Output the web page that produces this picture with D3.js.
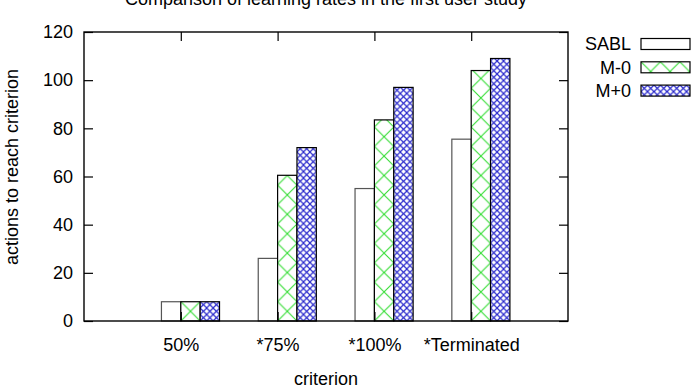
<!DOCTYPE html>
<html>
<head>
<meta charset="utf-8">
<script src="https://cdn.jsdelivr.net/npm/d3@7"></script>
<style>
  body { margin: 0; background: #fff; }
  svg { display: block; font-family: "Liberation Sans", Arial, sans-serif; }
</style>
</head>
<body>
<div id="chart"></div>
<script>
// values
const categories = ["50%", "*75%", "*100%", "*Terminated"];
const seriesNames = ["SABL", "M-0", "M+0"];
const sabl = [8, 26, 55, 75.5];
const mMinus0 = [8, 60.5, 83.5, 104];
const mPlus0 = [8, 72, 97, 109];
const yTicks = [0, 20, 40, 60, 80, 100, 120];

const series = [sabl, mMinus0, mPlus0];

const width = 698, height = 388;
const plot = { left: 84, right: 568, top: 32, bottom: 321 };

const svg = d3.select("#chart").append("svg")
  .attr("width", width)
  .attr("height", height);

const defs = svg.append("defs");

// gnuplot-ish fill patterns
function crossPattern(id, size, color, sw) {
  const p = defs.append("pattern")
    .attr("id", id)
    .attr("patternUnits", "userSpaceOnUse")
    .attr("width", size)
    .attr("height", size);
  p.append("rect").attr("width", size).attr("height", size).attr("fill", "#fff");
  p.append("path")
    .attr("d", `M0,0L${size},${size}M0,${size}L${size},0`)
    .attr("stroke", color)
    .attr("stroke-width", sw)
    .attr("fill", "none");
}
crossPattern("pat-green", 19.4, "#33dd33", 1.1);
crossPattern("pat-blue", 6.5, "#2a2acc", 1.2);

const fills = ["#fff", "url(#pat-green)", "url(#pat-blue)"];
const borders = ["#555", "#000", "#000"];

const x = d3.scaleLinear().domain([-1, 4]).range([plot.left, plot.right]);
const y = d3.scaleLinear().domain([0, 120]).range([plot.bottom, plot.top]);
const barW = x(0.2) - x(0);

// bars
const bars = svg.append("g");
series.forEach((vals, j) => {
  vals.forEach((v, i) => {
    const left = x(i - 0.2 + j * 0.2);
    const g = bars.append("g").attr("transform", `translate(${left},${plot.bottom})`);
    g.append("rect")
      .attr("x", 0)
      .attr("y", y(v) - plot.bottom)
      .attr("width", barW)
      .attr("height", plot.bottom - y(v))
      .attr("fill", fills[j])
      .attr("stroke", borders[j])
      .attr("stroke-width", 1.2);
  });
});

// axes, ticks pointing inward
const tickFont = g => g.selectAll("text")
  .attr("font-size", 18)
  .attr("font-family", "Liberation Sans, Arial, sans-serif")
  .attr("fill", "#000");

svg.append("g")
  .attr("transform", `translate(${plot.left},0)`)
  .call(d3.axisLeft(y).tickValues(yTicks).tickSize(-9).tickPadding(11).tickSizeOuter(0))
  .call(g => g.select(".domain").remove())
  .call(tickFont);

svg.append("g")
  .attr("transform", `translate(${plot.right},0)`)
  .call(d3.axisRight(y).tickValues(yTicks).tickSize(-9).tickFormat("").tickSizeOuter(0))
  .call(g => g.select(".domain").remove());

svg.append("g")
  .attr("transform", `translate(0,${plot.top})`)
  .call(d3.axisTop(x).tickValues([0, 1, 2, 3]).tickSize(-9).tickFormat("").tickSizeOuter(0))
  .call(g => g.select(".domain").remove());

svg.append("g")
  .attr("transform", `translate(0,${plot.bottom})`)
  .call(d3.axisBottom(x).tickValues([0, 1, 2, 3]).tickSize(-9).tickPadding(17)
    .tickFormat(i => categories[i]).tickSizeOuter(0))
  .call(g => g.select(".domain").remove())
  .call(tickFont);

svg.selectAll(".tick line").attr("stroke", "#000").attr("stroke-width", 1.2);

// border
svg.append("rect")
  .attr("x", plot.left)
  .attr("y", plot.top)
  .attr("width", plot.right - plot.left)
  .attr("height", plot.bottom - plot.top)
  .attr("fill", "none")
  .attr("stroke", "#000")
  .attr("stroke-width", 1.4);

// title and axis labels (title is clipped at the top, as in the original)
svg.append("text")
  .attr("x", 326)
  .attr("y", 5)
  .attr("text-anchor", "middle")
  .attr("font-size", 18)
  .text("Comparison of learning rates in the first user study");

svg.append("text")
  .attr("x", 326)
  .attr("y", 385)
  .attr("text-anchor", "middle")
  .attr("font-size", 18)
  .text("criterion");

svg.append("text")
  .attr("transform", "translate(18,167) rotate(-90)")
  .attr("text-anchor", "middle")
  .attr("font-size", 18)
  .text("actions to reach criterion");

// legend
const legend = svg.append("g");
seriesNames.forEach((name, j) => {
  const cy = 44 + j * 23.3;
  legend.append("text")
    .attr("x", 631)
    .attr("y", cy)
    .attr("dy", "0.35em")
    .attr("text-anchor", "end")
    .attr("font-size", 18)
    .text(name);
  const g = legend.append("g").attr("transform", `translate(641,${cy - 5.5})`);
  g.append("rect")
    .attr("width", 49)
    .attr("height", 11)
    .attr("fill", fills[j])
    .attr("stroke", "#000")
    .attr("stroke-width", 1.2);
});
</script>
</body>
</html>
